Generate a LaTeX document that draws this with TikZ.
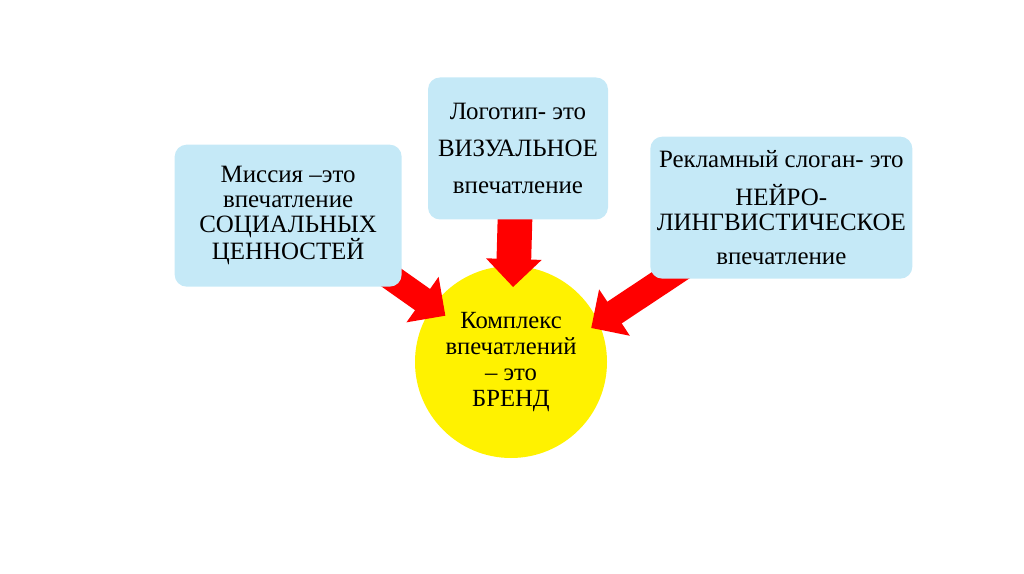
\documentclass[tikz,border=0pt]{standalone}
\usepackage{fontspec}
\setmainfont{Liberation Serif}
\usepackage{xcolor}
\usetikzlibrary{arrows.meta,positioning}
\definecolor{boxblue}{RGB}{197,233,247}
\pgfdeclarelayer{back}
\pgfdeclarelayer{mid}
\pgfsetlayers{back,mid,main}

\begin{document}
\begin{tikzpicture}[x=0.75pt, y=-0.75pt,
  box/.style={fill=boxblue, rounded corners=9pt, align=center, inner sep=0pt,
    minimum height=106.5pt, font=\fontsize{18.7}{18.7}\selectfont},
  push/.style={draw=red, line width=19.5pt, -{Triangle[width=40.5pt,length=21pt]}}]
\useasboundingbox (0,0) rectangle (1024,574);
\begin{pgfonlayer}{back}
\node[circle, fill=yellow, minimum size=144pt, inner sep=0pt, align=center,
  font=\fontsize{18.5}{19.5}\selectfont] (brand) at (511,362)
  {Комплекс\\впечатлений\\– это\\БРЕНД};
\end{pgfonlayer}
\node[box, minimum width=170.25pt, above left=5.25pt and 30.75pt of brand] (mission)
  {Миссия –это\\впечатление\\СОЦИАЛЬНЫХ\\ЦЕННОСТЕЙ};
\node[box, minimum width=135pt, above=34.5pt of brand, xshift=5.25pt] (logo)
  {Логотип- это\\[9pt]ВИЗУАЛЬНОЕ\\[9pt]впечатление};
\node[box, minimum width=196.5pt, above right=11.25pt and 53.25pt of brand] (slogan)
  {Рекламный слоган- это\\[10pt]НЕЙРО-\\ЛИНГВИСТИЧЕСКОЕ\\[7pt]впечатление};
% red arrows go under the boxes, over the circle
\begin{pgfonlayer}{mid}
\draw[push, shorten >=-12pt] ([xshift=-15pt,yshift=12pt]mission.south east) -- (brand);
\draw[push, line width=26pt, shorten >=-16pt] ([xshift=-2pt,yshift=10pt]logo.south) -- (brand);
\draw[push, shorten >=-7pt] ([xshift=40pt,yshift=19pt]slogan.south west) -- (brand.24);
\end{pgfonlayer}
\end{tikzpicture}
\end{document}
